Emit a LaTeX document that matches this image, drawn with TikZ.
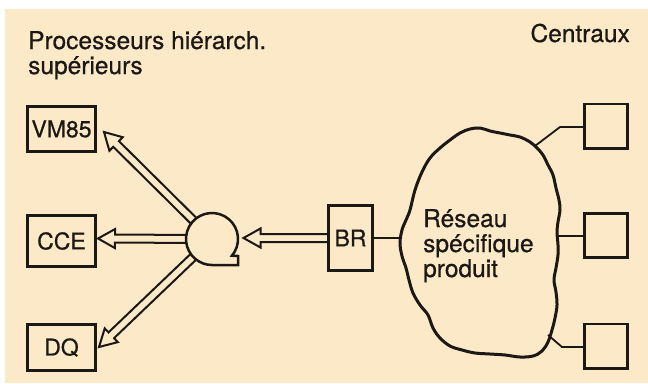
\documentclass[tikz,border=0pt]{standalone}
\usepackage{fontspec}
\setmainfont[FakeBold=0.6]{TeX Gyre Heros}
\usetikzlibrary{calc}
\definecolor{bg}{RGB}{251,233,199}
\definecolor{ink}{RGB}{28,24,22}
\tikzset{
  box/.style={draw=ink, line width=2.8pt, fill=bg, inner sep=0pt, text=ink,
    font=\fontsize{23}{24}\selectfont},
  sq/.style={draw=ink, line width=2.8pt, fill=bg, inner sep=0pt,
    minimum width=43.2pt, minimum height=44.2pt},
  lbl/.style={inner sep=0pt, text=ink, font=\fontsize{24.5}{25}\selectfont, align=left},
  wire/.style={draw=ink, line width=1.8pt},
  hollowarr/.style={draw=ink, line width=2pt, fill=bg, line join=miter, miter limit=10},
  cloudline/.style={draw=ink, line width=3pt, fill=bg, line join=round},
  tapeline/.style={draw=ink, line width=2.5pt, fill=bg, line join=miter},
}
\newcommand\hollowarrow[2]{%
  \draw[hollowarr] let \p1=(#1), \p2=(#2),
    \n1={atan2(\y2-\y1,\x2-\x1)}, \n2={veclen(\x2-\x1,\y2-\y1)} in
    [shift={(\p1)}, rotate=\n1]
    (0,-4) -- ({\n2-17},-4) -- ({\n2-17},-9.5) -- (\n2,0) -- ({\n2-17},9.5) -- ({\n2-17},4) -- (0,4);}
\begin{document}
\begin{tikzpicture}[x=1pt,y=-1pt]
\fill[white] (0,0) rectangle (648,383);
\fill[bg] (5,9) rectangle (648,383);
\useasboundingbox (0,0) rectangle (648,383);

% titles (anchor = baseline of the last line)
\node[lbl, anchor=base west] (title) at (28,74) {Processeurs hiérarch.\\supérieurs};
\node[lbl, anchor=base east] (centraux) at (630,42) {Centraux};

% cloud
\draw[cloudline] plot[smooth cycle, tension=0.6] coordinates {
 (410,210) (415,190) (422,172) (430,158) (440,148) (450,140) (460,133) (470,129)
 (480,128) (490,131) (500,133) (510,135) (520,137) (530,142) (537,148) (543,155)
 (548,165) (553,175) (556,188) (559,200) (560,210) (558,222) (557,232) (558,245)
 (558,255) (556,268) (554,280) (556,292) (557,305) (555,318) (552,330) (548,342)
 (542,351) (533,356) (520,357) (505,355) (490,354) (475,353) (462,350) (450,346)
 (440,338) (433,328) (428,315) (420,305) (413,293) (409,280) (406,268) (402,256)
 (400,243) (402,230) (406,220)};
\node[lbl, anchor=base west] (reseau) at (423,277) {Réseau\\spécifique\\produit};

% cloud attachment points
\coordinate (cL) at (400.5,238);
\coordinate (cT) at (535,146);
\coordinate (cM) at (558,236);
\coordinate (cB) at (548,335);

% central offices
\node[sq] (s1) at (606,126) {};
\node[sq] (s2) at (606,235.5) {};
\node[sq] (s3) at (606,346) {};
\draw[wire] (cT) -- (560,127) -- (s1.west |- 0,127);
\draw[wire] (cM) -- (s2.west |- cM);
\draw[wire] (cB) -- (562,347) -- (s3.west |- 0,347);

% boxes on the left
\node[box, minimum width=68.2pt, minimum height=45.2pt] (vm) at (61.5,129) {VM85};
\node[box, minimum width=68.2pt, minimum height=51.2pt] (cce) at (61.5,241) {CCE};
\node[box, minimum width=68.2pt, minimum height=46.2pt] (dq) at (61.5,347.5) {DQ};

% tape / switch symbol
\coordinate (circ) at (212,239);
\coordinate (tVM) at (104,132);
\coordinate (tCCE) at (98,238.5);
\coordinate (tDQ) at (99,347);
\coordinate (tBR) at (243.5,238);
\hollowarrow{circ}{tVM}
\hollowarrow{circ}{tCCE}
\hollowarrow{circ}{tDQ}
\draw[tapeline] ($(circ)+(-40:26pt)$) arc[start angle=-40, end angle=270, radius=26pt]
  -- ++(26pt,0pt) -- ++(0pt,9pt) -- cycle;

% BR
\node[box, minimum width=44.2pt, minimum height=65.2pt] (br) at (350.5,238) {};
\hollowarrow{br.center}{tBR}
\node[box, minimum width=44.2pt, minimum height=65.2pt] (brbox) at (350.5,238) {BR};
\draw[wire] (brbox.east) -- (cL);
\end{tikzpicture}
\end{document}
